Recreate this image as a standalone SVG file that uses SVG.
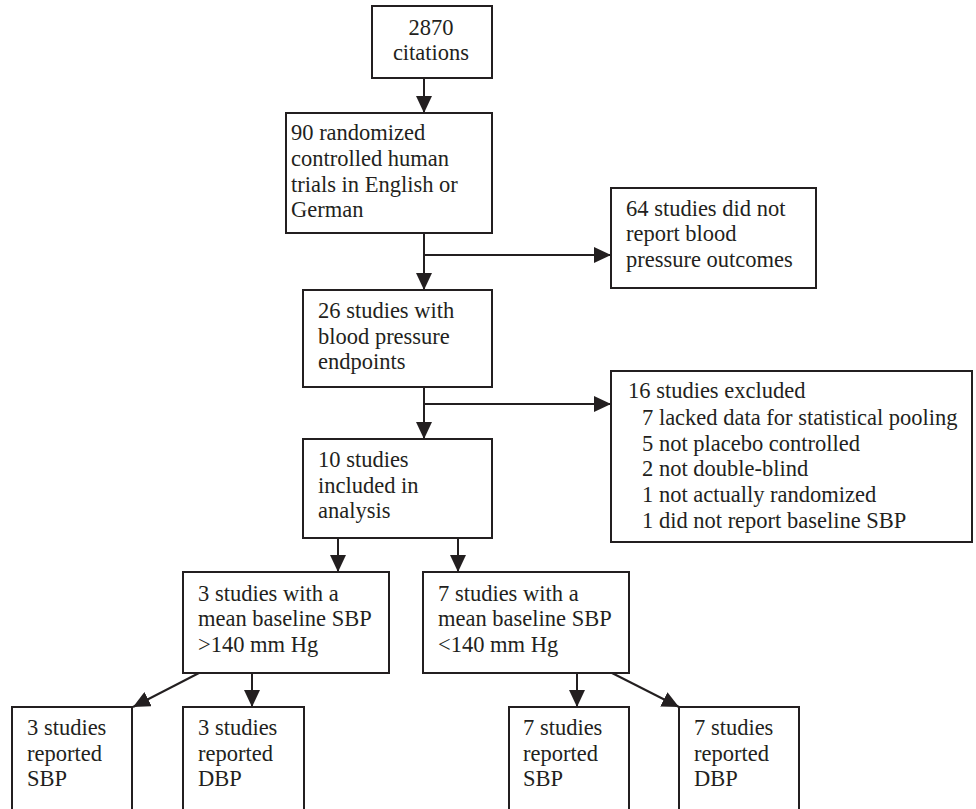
<svg xmlns="http://www.w3.org/2000/svg" width="976" height="809" viewBox="0 0 976 809">
<style>
.box{fill:#fff;stroke:#231f20;stroke-width:2}
.t{font-family:'Liberation Serif','DejaVu Serif',serif;font-size:22.5px;fill:#231f20}
.c{fill:none;stroke:#231f20;stroke-width:2}
</style>
<defs>
<marker id="ah" markerUnits="userSpaceOnUse" markerWidth="17" markerHeight="16" refX="17" refY="8" orient="auto" viewBox="0 0 17 16">
<path d="M0,0 L17,8 L0,16 z" fill="#231f20"/>
</marker>
</defs>
<rect width="976" height="809" fill="#fff"/>
<g id="connectors">
<line class="c" x1="424" y1="78" x2="424" y2="113" marker-end="url(#ah)"/>
<line class="c" x1="424" y1="233" x2="424" y2="290" marker-end="url(#ah)"/>
<line class="c" x1="424" y1="255" x2="611" y2="255" marker-end="url(#ah)"/>
<line class="c" x1="424" y1="387" x2="424" y2="439" marker-end="url(#ah)"/>
<line class="c" x1="424" y1="404" x2="611" y2="404" marker-end="url(#ah)"/>
<line class="c" x1="338" y1="538" x2="338" y2="572" marker-end="url(#ah)"/>
<line class="c" x1="458" y1="538" x2="458" y2="572" marker-end="url(#ah)"/>
<line class="c" x1="199" y1="673" x2="133" y2="707" marker-end="url(#ah)"/>
<line class="c" x1="252" y1="673" x2="252" y2="707" marker-end="url(#ah)"/>
<line class="c" x1="577" y1="673" x2="577" y2="707" marker-end="url(#ah)"/>
<line class="c" x1="612" y1="673" x2="679" y2="707" marker-end="url(#ah)"/>
</g>
<g id="n1">
<rect class="box" x="372" y="6" width="120" height="72"/>
<text class="t" x="431" y="35" text-anchor="middle">2870</text>
<text class="t" x="431" y="60" text-anchor="middle">citations</text>
</g>
<g id="n2">
<rect class="box" x="286" y="113" width="206" height="120"/>
<text class="t" x="291" y="140">90 randomized</text>
<text class="t" x="291" y="166">controlled human</text>
<text class="t" x="291" y="192">trials in English or</text>
<text class="t" x="291" y="217">German</text>
</g>
<g id="n3">
<rect class="box" x="611" y="188" width="205" height="100"/>
<text class="t" x="626" y="216">64 studies did not</text>
<text class="t" x="626" y="241">report blood</text>
<text class="t" x="626" y="267">pressure outcomes</text>
</g>
<g id="n4">
<rect class="box" x="303" y="290" width="189" height="97"/>
<text class="t" x="318" y="318">26 studies with</text>
<text class="t" x="318" y="344">blood pressure</text>
<text class="t" x="318" y="369">endpoints</text>
</g>
<g id="n5">
<rect class="box" x="611" y="371" width="361" height="171"/>
<text class="t" x="628" y="398">16 studies excluded</text>
<text class="t" x="642" y="425">7 lacked data for statistical pooling</text>
<text class="t" x="642" y="451">5 not placebo controlled</text>
<text class="t" x="642" y="476">2 not double-blind</text>
<text class="t" x="642" y="502">1 not actually randomized</text>
<text class="t" x="642" y="528">1 did not report baseline SBP</text>
</g>
<g id="n6">
<rect class="box" x="303" y="439" width="189" height="99"/>
<text class="t" x="318" y="467">10 studies</text>
<text class="t" x="318" y="493">included in</text>
<text class="t" x="318" y="518">analysis</text>
</g>
<g id="n7">
<rect class="box" x="183" y="572" width="206" height="101"/>
<text class="t" x="198" y="601">3 studies with a</text>
<text class="t" x="198" y="626">mean baseline SBP</text>
<text class="t" x="198" y="652">&gt;140 mm Hg</text>
</g>
<g id="n8">
<rect class="box" x="423" y="572" width="206" height="101"/>
<text class="t" x="438" y="601">7 studies with a</text>
<text class="t" x="438" y="626">mean baseline SBP</text>
<text class="t" x="438" y="652">&lt;140 mm Hg</text>
</g>
<g id="n9">
<rect class="box" x="12" y="707" width="120" height="108"/>
<text class="t" x="27" y="735">3 studies</text>
<text class="t" x="27" y="761">reported</text>
<text class="t" x="27" y="786">SBP</text>
</g>
<g id="n10">
<rect class="box" x="183" y="707" width="121" height="108"/>
<text class="t" x="198" y="735">3 studies</text>
<text class="t" x="198" y="761">reported</text>
<text class="t" x="198" y="786">DBP</text>
</g>
<g id="n11">
<rect class="box" x="509" y="707" width="120" height="108"/>
<text class="t" x="523" y="735">7 studies</text>
<text class="t" x="523" y="761">reported</text>
<text class="t" x="523" y="786">SBP</text>
</g>
<g id="n12">
<rect class="box" x="679" y="707" width="120" height="108"/>
<text class="t" x="694" y="735">7 studies</text>
<text class="t" x="694" y="761">reported</text>
<text class="t" x="694" y="786">DBP</text>
</g>
</svg>
